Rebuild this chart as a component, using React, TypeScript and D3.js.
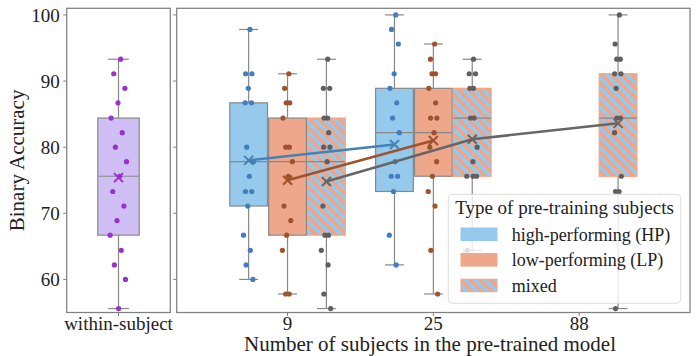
import React from 'react';
import * as d3 from 'd3';

// ---------- data ----------
const groups = ['9', '25', '88'];
const hues = ['high-performing (HP)', 'low-performing (LP)', 'mixed'];
const yTicks = [60, 70, 80, 90, 100];
const withinLabel = 'within-subject';

// box stats: [lower whisker, Q1, median, Q3, upper whisker]
const withinStats = [55.6, 66.7, 75.6, 84.4, 93.3];
const withinMean = 75.4;
const withinPoints = [93.3, 91.1, 88.9, 86.7, 84.4, 82.2, 80, 77.8, 75.6, 73.3, 71.1, 68.9, 66.7, 64.4, 62.2, 60, 55.6];

// HP: groups 9, 25
const hpStats = [
  [60, 71.1, 77.8, 86.7, 97.8],
  [62.2, 73.3, 82.2, 88.9, 100],
];
const hpMeans = [78.0, 80.4];
const hpPoints = [
  [97.8, 91.1, 91.1, 88.9, 86.7, 86.7, 80, 77.8, 75.6, 73.3, 73.3, 71.1, 66.7, 64.4, 62.2, 60],
  [100, 97.8, 95.6, 91.1, 88.9, 86.7, 84.4, 82.2, 77.8, 75.6, 75.6, 73.3, 66.7, 62.2],
];

// LP: groups 9, 25
const lpStats = [
  [57.8, 66.7, 77.8, 84.4, 91.1],
  [57.8, 75.6, 82.2, 88.9, 95.6],
];
const lpMeans = [75.0, 81.0];
const lpPoints = [
  [91.1, 88.9, 86.7, 86.7, 84.4, 80, 80, 77.8, 75.6, 71.1, 68.9, 66.7, 64.4, 57.8, 57.8],
  [95.6, 93.3, 91.1, 91.1, 88.9, 86.7, 84.4, 84.4, 82.2, 80, 77.8, 75.6, 73.3, 71.1, 64.4, 57.8],
];

// mixed: groups 9, 25, 88
const mixedStats = [
  [55.6, 66.7, 77.8, 84.4, 93.3],
  [64.4, 75.6, 84.4, 88.9, 93.3],
  [55.6, 75.6, 84.4, 91.1, 100],
];
const mixedMeans = [74.8, 81.2, 83.6];
const mixedPoints = [
  [93.3, 88.9, 88.9, 84.4, 84.4, 82.2, 80, 80, 77.8, 71.1, 66.7, 66.7, 64.4, 62.2, 57.8, 55.6],
  [93.3, 91.1, 91.1, 88.9, 88.9, 84.4, 84.4, 80, 77.8, 75.6, 75.6, 75.6, 64.4],
  [100, 95.6, 93.3, 93.3, 91.1, 91.1, 88.9, 84.4, 84.4, 82.2, 75.6, 73.3, 73.3, 71.1, 55.6],
];

// ---------- style ----------
const W = 700;
const H = 356;
const FONT = '"Liberation Serif", "Times New Roman", Times, serif';
const TEXT = '#222222';
const SPINE = '#808080';
const BOXEDGE = '#888888';
const seriesStyle = [
  { fill: '#95caec', edge: BOXEDGE, dot: '#3f7fbf', line: '#4682b4' },
  { fill: '#eea78b', edge: BOXEDGE, dot: '#a0522d', line: '#a0522d' },
  { fill: 'url(#hatch)', edge: '#ffa07a', dot: '#5f5f5f', line: '#666666' },
];
const withinStyle = { fill: '#cfbff5', edge: BOXEDGE, dot: '#9932cc', line: '#9932cc' };

const top = 8.3;
const bottom = 312.5;
const leftPanel = [66.7, 170.3];
const rightPanel = [176.7, 690];

function jitterOffsets(values: number[], amp: number, spread: number): number[] {
  const counts = new Map<number, number>();
  const seen = new Map<number, number>();
  values.forEach((v) => counts.set(v, (counts.get(v) || 0) + 1));
  return values.map((v, i) => {
    const n = counts.get(v) || 1;
    const k = seen.get(v) || 0;
    seen.set(v, k + 1);
    const base = ((((i + 1) * 0.618034) % 1) - 0.5) * amp;
    return n > 1 ? (k - (n - 1) / 2) * spread + base * 0.25 : base;
  });
}

function XMark({ x, y, color, s = 4.5 }: { x: number; y: number; color: string; s?: number }) {
  return (
    <g stroke={color} strokeWidth={2}>
      <line x1={x - s} y1={y - s} x2={x + s} y2={y + s} />
      <line x1={x - s} y1={y + s} x2={x + s} y2={y - s} />
    </g>
  );
}

function Box({ cx, w, stats, y, style }: { cx: number; w: number; stats: number[]; y: d3.ScaleLinear<number, number>; style: any }) {
  const [lo, q1, med, q3, hi] = stats;
  const capW = w / 2;
  return (
    <g>
      <line x1={cx} x2={cx} y1={y(q3)} y2={y(hi)} stroke={BOXEDGE} strokeWidth={1.2} />
      <line x1={cx} x2={cx} y1={y(q1)} y2={y(lo)} stroke={BOXEDGE} strokeWidth={1.2} />
      <line x1={cx - capW / 2} x2={cx + capW / 2} y1={y(hi)} y2={y(hi)} stroke={BOXEDGE} strokeWidth={1.2} />
      <line x1={cx - capW / 2} x2={cx + capW / 2} y1={y(lo)} y2={y(lo)} stroke={BOXEDGE} strokeWidth={1.2} />
      <rect x={cx - w / 2} y={y(q3)} width={w} height={y(q1) - y(q3)} fill={style.fill} stroke={style.edge} strokeWidth={1.2} />
      <line x1={cx - w / 2} x2={cx + w / 2} y1={y(med)} y2={y(med)} stroke={BOXEDGE} strokeWidth={1.2} />
    </g>
  );
}

export default function App() {
  const y = d3.scaleLinear().domain([55, 101]).range([bottom, top]);
  const xl = d3.scaleLinear().domain([-0.5, 0.5]).range(leftPanel);
  const xr = d3.scaleLinear().domain([-0.76, 2.76]).range(rightPanel);
  const hueBand = d3.scaleBand<string>().domain(hues).range([-0.4, 0.4]);
  const unit = xr(1) - xr(0);
  const boxW = hueBand.bandwidth() * unit * 0.97;
  const hueCenter = (gi: number, hi: number) => xr(gi) + (hueBand(hues[hi])! + hueBand.bandwidth() / 2) * unit;

  const series = [
    { stats: hpStats, means: hpMeans, points: hpPoints },
    { stats: lpStats, means: lpMeans, points: lpPoints },
    { stats: mixedStats, means: mixedMeans, points: mixedPoints },
  ];

  const lineGen = d3.line<[number, number]>().x((d) => d[0]).y((d) => d[1]);

  const withinCx = xl(0);
  const withinW = xl(0.2) - xl(-0.2);
  const withinJ = jitterOffsets(withinPoints, 18, 5);

  const legendX = 448.3;
  const legendY = 194.3;

  return (
    <svg width={W} height={H} style={{ position: 'absolute', left: 0, top: 0, background: '#fff' }} fontFamily={FONT}>
      <defs>
        <pattern id="hatch" patternUnits="userSpaceOnUse" width={7} height={7} patternTransform="rotate(-45)">
          <rect width={7} height={7} fill="#87cefa" />
          <rect width={3.5} height={7} fill="#ffa07a" />
        </pattern>
      </defs>
      <rect width={W} height={H} fill="#fff" />

      {/* ---- left panel ---- */}
      <Box cx={withinCx} w={withinW} stats={withinStats} y={y} style={withinStyle} />
      {withinPoints.map((v, i) => (
        <circle key={'w' + i} cx={withinCx + withinJ[i]} cy={y(v)} r={2.6} fill={withinStyle.dot} />
      ))}
      <XMark x={withinCx} y={y(withinMean)} color={withinStyle.line} />
      <rect x={leftPanel[0]} y={top} width={leftPanel[1] - leftPanel[0]} height={bottom - top} fill="none" stroke={SPINE} strokeWidth={1.25} />
      {yTicks.map((t) => (
        <g key={'yt' + t}>
          <line x1={leftPanel[0] - 3.5} x2={leftPanel[0]} y1={y(t)} y2={y(t)} stroke={SPINE} strokeWidth={1} />
          <text x={leftPanel[0] - 7} y={y(t)} dy="0.35em" textAnchor="end" fontSize={19} fill={TEXT}>{t}</text>
        </g>
      ))}
      <line x1={withinCx} x2={withinCx} y1={bottom} y2={bottom + 3.5} stroke={SPINE} strokeWidth={1} />
      <text x={withinCx} y={329.5} textAnchor="middle" fontSize={19} fill={TEXT}>{withinLabel}</text>
      <text transform={`translate(24,${(top + bottom) / 2}) rotate(-90)`} textAnchor="middle" fontSize={21} fill={TEXT}>Binary Accuracy</text>

      {/* ---- right panel ---- */}
      {series.map((s, hi) =>
        s.stats.map((st, gi) => (
          <Box key={`b${hi}-${gi}`} cx={hueCenter(gi, hi)} w={boxW} stats={st} y={y} style={seriesStyle[hi]} />
        ))
      )}
      {series.map((s, hi) =>
        s.points.map((pts, gi) => {
          const j = jitterOffsets(pts, 11, 4.6);
          return pts.map((v, i) => (
            <circle key={`p${hi}-${gi}-${i}`} cx={hueCenter(gi, hi) + j[i]} cy={y(v)} r={2.6} fill={seriesStyle[hi].dot} />
          ));
        })
      )}
      {series.map((s, hi) => (
        <path
          key={'l' + hi}
          d={lineGen(s.means.map((m, gi) => [hueCenter(gi, hi), y(m)] as [number, number])) || ''}
          fill="none"
          stroke={seriesStyle[hi].line}
          strokeWidth={2.5}
        />
      ))}
      {series.map((s, hi) =>
        s.means.map((m, gi) => <XMark key={`m${hi}-${gi}`} x={hueCenter(gi, hi)} y={y(m)} color={seriesStyle[hi].line} />)
      )}
      <rect x={rightPanel[0]} y={top} width={rightPanel[1] - rightPanel[0]} height={bottom - top} fill="none" stroke={SPINE} strokeWidth={1.25} />
      {yTicks.map((t) => (
        <line key={'yr' + t} x1={rightPanel[0] - 3.5} x2={rightPanel[0]} y1={y(t)} y2={y(t)} stroke={SPINE} strokeWidth={1} />
      ))}
      {groups.map((g, gi) => (
        <g key={'xt' + g}>
          <line x1={xr(gi)} x2={xr(gi)} y1={bottom} y2={bottom + 3.5} stroke={SPINE} strokeWidth={1} />
          <text x={xr(gi)} y={329.5} textAnchor="middle" fontSize={19} fill={TEXT}>{g}</text>
        </g>
      ))}
      <text x={430} y={351} textAnchor="middle" fontSize={21} fill={TEXT}>Number of subjects in the pre-trained model</text>

      {/* ---- legend ---- */}
      <rect x={legendX} y={legendY} width={232.4} height={109} rx={4} fill="#fff" fillOpacity={0.8} stroke="#dcdcdc" strokeWidth={1} />
      <text x={legendX + 116.2} y={214} textAnchor="middle" fontSize={19} fill={TEXT}>Type of pre-training subjects</text>
      {hues.map((h, i) => (
        <g key={'lg' + i}>
          <rect x={461} y={228 + i * 25.6} width={36} height={12.5} fill={seriesStyle[i].fill} stroke={i === 2 ? '#ffa07a' : seriesStyle[i].fill} strokeWidth={1} />
          <text x={511.7} y={240.6 + i * 25.6} fontSize={18} fill={TEXT}>{h}</text>
        </g>
      ))}
    </svg>
  );
}
